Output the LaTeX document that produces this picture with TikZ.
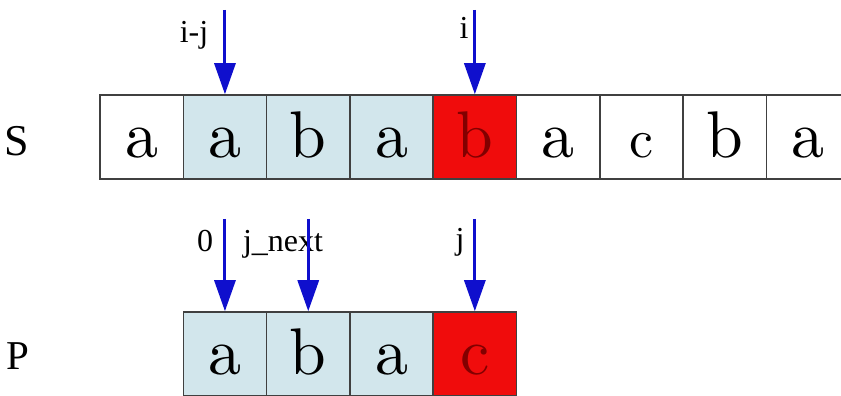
\documentclass[tikz,border=0pt]{standalone}
\usepackage{fontspec}
\usepackage{tikz}
\usetikzlibrary{arrows.meta}
\newfontfamily\labelfont{Liberation Serif}
\newfontfamily\cellfont{lmroman10-regular}[Extension=.otf]
\definecolor{ptrblue}{RGB}{15,15,205}
\definecolor{matchblue}{RGB}{210,230,236}
\definecolor{missred}{RGB}{240,12,12}
\definecolor{misstext}{RGB}{130,0,0}

\begin{document}
\begin{tikzpicture}[
  x=1pt, y=1pt, >=Stealth,
  cell/.style={draw=black!75, line width=1.5pt, fill=white, inner sep=0pt,
               minimum width=83.3pt, minimum height=84pt,
               text height=41pt, text depth=0pt,
               font=\cellfont\fontsize{66}{66}\selectfont},
  hit/.style={cell, fill=matchblue},
  miss/.style={cell, fill=missred, text=misstext},
  rowname/.style={font=\labelfont\fontsize{44}{44}\selectfont},
  ptr/.style={font=\labelfont\fontsize{32}{32}\selectfont, anchor=base},
  arr/.style={-{Triangle[length=31pt,width=21pt]}, line width=3pt, color=ptrblue},
]
\useasboundingbox (0,0) rectangle (841,396);
\clip (0,0) rectangle (841,396);

% text string S
\node[rowname] (sname) at (17,255) {S};
\node[cell] (s0) at (141.65,259) {a};
\node[hit]  (s1) at (224.95,259) {a};
\node[hit]  (s2) at (308.25,259) {b};
\node[hit]  (s3) at (391.55,259) {a};
\node[miss] (s4) at (474.85,259) {b};
\node[cell] (s5) at (558.15,259) {a};
\node[cell, font=\cellfont\fontsize{54}{54}\selectfont] (s6) at (641.45,259) {c};
\node[cell] (s7) at (724.75,259) {b};
\node[cell] (s8) at (808.05,259) {a};

% pattern P
\node[rowname, font=\labelfont\fontsize{41}{41}\selectfont] (pname) at (18,40) {P};
\node[hit]  (p0) at (224.95,42) {a};
\node[hit]  (p1) at (308.25,42) {b};
\node[hit]  (p2) at (391.55,42) {a};
\node[miss] (p3) at (474.85,42) {c};

% pointers
\node[ptr] (lij)   at (194,353) {i-j};
\node[ptr] (li)    at (464,357) {i};
\node[ptr] (l0)    at (205,144) {0};
\node[ptr] (lnext) at (283,144) {j\_next};
\node[ptr] (lj)    at (460,146) {j};

\coordinate (ijtop)   at (224.95,386);
\coordinate (itop)    at (474.85,386);
\coordinate (zerotop) at (224.95,177);
\coordinate (nexttop) at (308.25,177);
\coordinate (jtop)    at (474.85,177);

\draw[arr] (ijtop) -- (s1.north);
\draw[arr] (itop) -- (s4.north);
\draw[arr] (zerotop) -- (p0.north);
\draw[arr] (nexttop) -- (p1.north);
\draw[arr] (jtop) -- (p3.north);
\end{tikzpicture}
\end{document}
